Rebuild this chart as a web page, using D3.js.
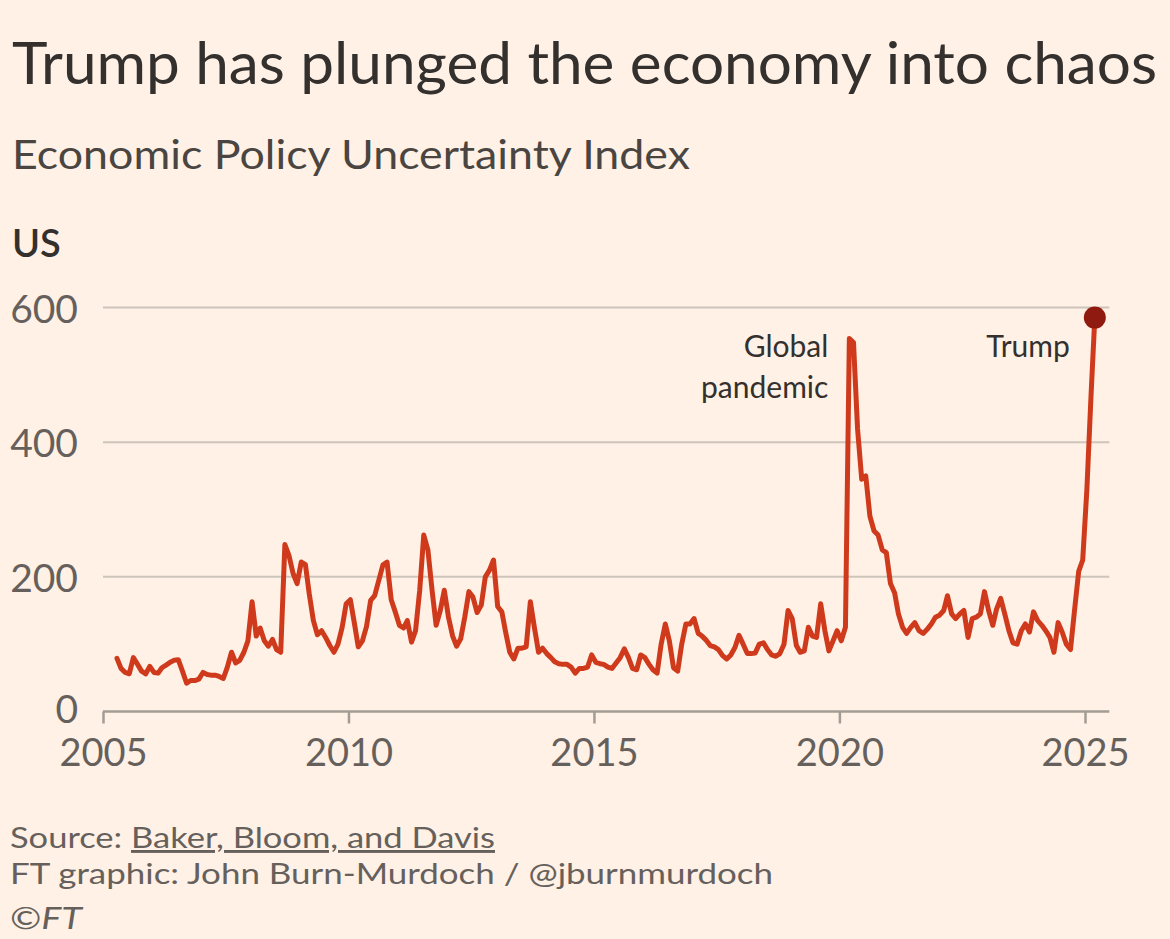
<!DOCTYPE html>
<html>
<head>
<meta charset="utf-8">
<script src="https://cdn.jsdelivr.net/npm/d3@7"></script>
<style>
    html, body { margin: 0; padding: 0; background: #fff1e5; }
    svg { display: block; }
</style>
</head>
<body>
<svg id="chart" width="1170" height="939"></svg>
<script>
// Monthly US Economic Policy Uncertainty index.
// 2005 starts in April, 2025 ends in March.
const epu2005 = [79, 64, 58, 56, 80, 70, 60, 56, 67];
const epu2006 = [58, 57, 65, 69, 73, 76, 77, 60, 42, 46, 46, 48];
const epu2007 = [58, 55, 54, 54, 52, 49, 66, 88, 72, 76, 88, 105];
const epu2008 = [163, 112, 124, 105, 97, 107, 92, 88, 248, 232, 205, 190];
const epu2009 = [222, 218, 175, 135, 114, 120, 110, 98, 88, 100, 125, 160];
const epu2010 = [166, 130, 96, 105, 126, 165, 172, 195, 218, 222, 166, 148];
const epu2011 = [128, 124, 135, 103, 120, 180, 262, 240, 180, 128, 150, 180];
const epu2012 = [140, 112, 97, 108, 140, 178, 170, 147, 158, 200, 210, 225];
const epu2013 = [156, 148, 118, 88, 78, 94, 94, 96, 163, 125, 88, 94];
const epu2014 = [86, 80, 74, 71, 70, 70, 66, 57, 64, 64, 66, 84];
const epu2015 = [73, 71, 70, 66, 64, 72, 80, 93, 80, 64, 62, 84];
const epu2016 = [80, 70, 62, 57, 100, 130, 105, 65, 60, 100, 130, 130];
const epu2017 = [138, 116, 112, 106, 98, 96, 92, 83, 78, 84, 95, 113];
const epu2018 = [100, 86, 86, 87, 100, 102, 92, 84, 82, 86, 100, 150];
const epu2019 = [138, 98, 88, 90, 125, 112, 110, 160, 120, 90, 105, 120];
const epu2020 = [105, 125, 554, 548, 420, 345, 350, 290, 268, 262, 240, 236];
const epu2021 = [190, 176, 145, 125, 116, 125, 132, 120, 116, 122, 130, 140];
const epu2022 = [143, 150, 172, 145, 138, 145, 150, 110, 138, 140, 145, 178];
const epu2023 = [150, 128, 152, 168, 145, 120, 102, 100, 120, 130, 118, 148];
const epu2024 = [135, 128, 120, 110, 88, 132, 118, 100, 92, 150, 208, 225];
const epu2025 = [330, 470, 585];

const yearTicks = [2005, 2010, 2015, 2020, 2025];
const valueTicks = [0, 200, 400, 600];

const FONT = "Lato, 'Noto Sans', sans-serif";
const W = 1170, H = 939;

const byYear = [epu2005, epu2006, epu2007, epu2008, epu2009, epu2010, epu2011,
    epu2012, epu2013, epu2014, epu2015, epu2016, epu2017, epu2018, epu2019,
    epu2020, epu2021, epu2022, epu2023, epu2024, epu2025];

const data = [];
byYear.forEach((vals, k) => {
    const year = 2005 + k;
    const firstMonth = year === 2005 ? 3 : 0;
    vals.forEach((v, m) => data.push({ date: new Date(year, firstMonth + m, 15), value: v }));
});

const svg = d3.select("#chart");
svg.append("rect").attr("width", W).attr("height", H).attr("fill", "#fff1e5");

// stretch/squeeze a text node to a measured width from the reference
function fit(sel, width) {
    const w = sel.node().getComputedTextLength();
    if (Math.abs(w - width) > 2) {
        sel.attr("textLength", width).attr("lengthAdjust", "spacingAndGlyphs");
    }
    return sel;
}

// Headings
fit(svg.append("text")
    .attr("x", 12).attr("y", 83.5)
    .attr("font-family", FONT).attr("font-size", 58)
    .attr("fill", "#33302e")
    .text("Trump has plunged the economy into chaos"), 1145);

fit(svg.append("text")
    .attr("x", 12).attr("y", 168.5)
    .attr("font-family", FONT).attr("font-size", 40)
    .attr("fill", "#4a4541")
    .text("Economic Policy Uncertainty Index"), 678);

fit(svg.append("text")
    .attr("x", 12).attr("y", 257)
    .attr("font-family", FONT).attr("font-size", 38)
    .attr("font-weight", 600)
    .attr("fill", "#33302e")
    .text("US"), 50);

// Scales
const x = d3.scaleTime()
    .domain([new Date(2005, 0, 1), new Date(2025, 0, 1)])
    .range([103, 1085]);
const y = d3.scaleLinear()
    .domain([0, 600])
    .range([711.5, 307.5]);

const xEnd = x(new Date(2025, 6, 1));
const xStart = x(new Date(2005, 0, 1));

// Gridlines + y labels
const grid = svg.append("g");
grid.selectAll("line")
    .data(valueTicks.filter(v => v > 0))
    .enter().append("line")
    .attr("x1", xStart).attr("x2", xEnd)
    .attr("y1", d => y(d)).attr("y2", d => y(d))
    .attr("stroke", "#cdc4bb")
    .attr("stroke-width", 2);

grid.selectAll("text")
    .data(valueTicks)
    .enter().append("text")
    .attr("x", 78)
    .attr("y", d => y(d) + (d === 0 ? 11 : 15))
    .attr("text-anchor", "end")
    .attr("font-family", FONT).attr("font-size", 39)
    .attr("fill", "#66605c")
    .text(d => d);

// X axis
const xAxis = svg.append("g")
    .attr("transform", `translate(0,${y(0)})`)
    .call(d3.axisBottom(x)
        .tickValues(yearTicks.map(t => new Date(t, 0, 1)))
        .tickSize(12)
        .tickSizeOuter(0)
        .tickFormat(d3.timeFormat("%Y")));

xAxis.select(".domain").remove();
xAxis.append("line")
    .attr("x1", xStart).attr("x2", xEnd)
    .attr("stroke", "#a39c95")
    .attr("stroke-width", 2.5);
xAxis.selectAll(".tick line")
    .attr("stroke", "#a39c95")
    .attr("stroke-width", 2.5);
xAxis.selectAll(".tick text")
    .attr("y", 54).attr("dy", 0)
    .attr("font-family", FONT).attr("font-size", 38)
    .attr("fill", "#66605c");

// Line
const line = d3.line()
    .x(d => x(d.date))
    .y(d => y(d.value));

svg.append("path")
    .datum(data)
    .attr("d", line)
    .attr("fill", "none")
    .attr("stroke", "#cf3a1c")
    .attr("stroke-width", 5)
    .attr("stroke-linejoin", "round")
    .attr("stroke-linecap", "round");

const last = data[data.length - 1];
svg.append("circle")
    .attr("cx", x(last.date))
    .attr("cy", y(last.value))
    .attr("r", 11)
    .attr("fill", "#8f1b10");

// Annotations
const peak = data.reduce((a, b) => (b.date.getFullYear() === 2020 && b.value > a.value ? b : a), data[0]);
const ann = svg.append("g")
    .attr("font-family", FONT).attr("font-size", 30)
    .attr("fill", "#33302e")
    .attr("text-anchor", "end");

ann.append("text")
    .attr("x", x(peak.date) - 21).attr("y", y(527))
    .text("Global");
ann.append("text")
    .attr("x", x(peak.date) - 21).attr("y", y(465))
    .text("pandemic");
ann.append("text")
    .attr("x", x(last.date) - 25).attr("y", y(527))
    .text("Trump");

// Footer
const foot = svg.append("g")
    .attr("font-family", FONT)
    .attr("fill", "#66605c");

const src = foot.append("text")
    .attr("x", 10).attr("y", 848)
    .attr("font-size", 29);
src.append("tspan").text("Source: ");
src.append("tspan").attr("text-decoration", "underline").text("Baker, Bloom, and Davis");
fit(src, 485);

fit(foot.append("text")
    .attr("x", 10).attr("y", 884)
    .attr("font-size", 29)
    .text("FT graphic: John Burn-Murdoch / @jburnmurdoch"), 763);

const cr = foot.append("text")
    .attr("x", 10).attr("y", 929)
    .attr("font-size", 31);
cr.append("tspan").text("©");
cr.append("tspan").attr("font-style", "italic").text("FT");
fit(cr, 72);
</script>
</body>
</html>
